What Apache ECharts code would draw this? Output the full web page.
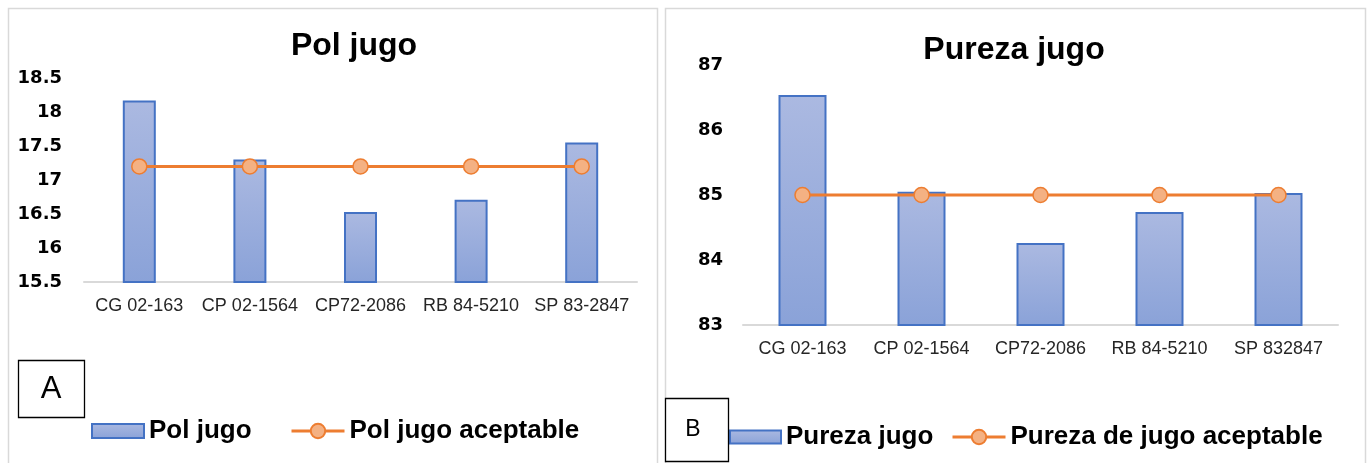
<!DOCTYPE html>
<html>
<head>
<meta charset="UTF-8">
<title>Pol y pureza jugo</title>
<script src="https://cdn.jsdelivr.net/npm/echarts@6/dist/echarts.min.js"></script>
<style>
	html, body { margin: 0; padding: 0; background: #fff; }
	#chart { width: 1369px; height: 463px; }
</style>
</head>
<body>
<div id="chart"></div>
<script type="text/javascript">
var variedadesA = ['CG 02-163', 'CP 02-1564', 'CP72-2086', 'RB 84-5210', 'SP 83-2847'];
var variedadesB = ['CG 02-163', 'CP 02-1564', 'CP72-2086', 'RB 84-5210', 'SP 832847'];
var polJugo = [18.17, 17.3, 16.53, 16.71, 17.55];
var polAceptable = [17.2, 17.2, 17.2, 17.2, 17.2];
var purezaJugo = [86.54, 85.05, 84.26, 84.74, 85.03];
var purezaAceptable = [85, 85, 85, 85, 85];

var FONT = 'Liberation Sans, Arial, sans-serif';
var barColor = new echarts.graphic.LinearGradient(0, 0, 0, 1, [
	{ offset: 0, color: '#abb9e1' },
	{ offset: 1, color: '#8aa2d8' }
]);
var legendText = { fontFamily: FONT, fontWeight: 'bold', fontSize: 26, color: '#000' };

function barSerie(name, data, idx, width) {
	return {
		name: name, type: 'bar', data: data,
		xAxisIndex: idx, yAxisIndex: idx,
		barWidth: width,
		itemStyle: { color: barColor, borderColor: '#4472c4', borderWidth: 2 },
		z: 2
	};
}
function lineSerie(name, data, idx) {
	return {
		name: name, type: 'line', data: data,
		xAxisIndex: idx, yAxisIndex: idx,
		symbol: 'circle', symbolSize: 15,
		lineStyle: { color: '#ed7d31', width: 3 },
		itemStyle: { color: '#f4b183', borderColor: '#ed7d31', borderWidth: 1.5 },
		z: 3
	};
}
function catAxis(data, idx) {
	return {
		type: 'category', data: data, gridIndex: idx,
		axisLine: { lineStyle: { color: '#d9d9d9', width: 2 } },
		axisTick: { show: false },
		axisLabel: { interval: 0, color: '#262626', fontFamily: FONT, fontSize: 18, margin: 15 }
	};
}
function valAxis(min, max, step, idx, margin) {
	return {
		type: 'value', gridIndex: idx, min: min, max: max, interval: step,
		axisLine: { show: false }, axisTick: { show: false }, splitLine: { show: false },
		axisLabel: { color: '#000', fontFamily: 'DejaVu Sans', fontWeight: 'bold', fontSize: 18, margin: margin }
	};
}
function barLegend(name, left, top, w, h) {
	return { data: [{ name: name, icon: 'rect' }], left: left, top: top, padding: 0,
		itemWidth: w, itemHeight: h, selectedMode: false, textStyle: legendText };
}
function lineLegend(name, left, top) {
	return { data: [name], left: left, top: top, padding: 0,
		itemWidth: 53, itemHeight: 18, selectedMode: false,
		lineStyle: { width: 3 }, textStyle: legendText };
}

var myChart = echarts.init(document.getElementById('chart'));
var option = {
	backgroundColor: '#fff',
	animation: false,
	title: [
		{ text: 'Pol jugo', left: 354, top: 30, textAlign: 'center', padding: 0,
			textStyle: { fontFamily: FONT, fontWeight: 'bold', fontSize: 32, color: '#000' } },
		{ text: 'Pureza jugo', left: 1014, top: 34, textAlign: 'center', padding: 0,
			textStyle: { fontFamily: FONT, fontWeight: 'bold', fontSize: 32, color: '#000' } }
	],
	legend: [
		barLegend('Pol jugo', 91, 418, 52, 14),
		lineLegend('Pol jugo aceptable', 290, 418),
		barLegend('Pureza jugo', 729, 424, 51, 13),
		lineLegend('Pureza de jugo aceptable', 951, 424)
	],
	grid: [
		{ left: 84, right: 732, top: 78, bottom: 181, containLabel: false },
		{ left: 743, right: 31, top: 65, bottom: 138, containLabel: false }
	],
	xAxis: [catAxis(variedadesA, 0), catAxis(variedadesB, 1)],
	yAxis: [valAxis(15.5, 18.5, 0.5, 0, 22), valAxis(83, 87, 1, 1, 20)],
	series: [
		barSerie('Pol jugo', polJugo, 0, 33),
		lineSerie('Pol jugo aceptable', polAceptable, 0),
		barSerie('Pureza jugo', purezaJugo, 1, 48),
		lineSerie('Pureza de jugo aceptable', purezaAceptable, 1)
	],
	graphic: [
		{ type: 'rect', shape: { x: 8.5, y: 8.5, width: 649, height: 480 },
			style: { fill: 'none', stroke: '#d9d9d9', lineWidth: 1.5 }, z: -1 },
		{ type: 'rect', shape: { x: 665.5, y: 8.5, width: 700, height: 480 },
			style: { fill: 'none', stroke: '#d9d9d9', lineWidth: 1.5 }, z: -1 },
		{ type: 'rect', shape: { x: 18.5, y: 360.5, width: 66, height: 57 },
			style: { fill: '#fff', stroke: '#000', lineWidth: 1.3 }, z: 10 },
		{ type: 'text', x: 51, y: 389, z: 11,
			style: { text: 'A', fontFamily: FONT, fontSize: 31, fill: '#000', align: 'center', verticalAlign: 'middle' } },
		{ type: 'rect', shape: { x: 665.5, y: 398.5, width: 63, height: 63 },
			style: { fill: '#fff', stroke: '#000', lineWidth: 1.3 }, z: 10 },
		{ type: 'text', x: 693, y: 430, z: 11,
			style: { text: 'B', fontFamily: FONT, fontSize: 23, fill: '#000', align: 'center', verticalAlign: 'middle' } }
	]
};
myChart.setOption(option);
</script>
</body>
</html>
